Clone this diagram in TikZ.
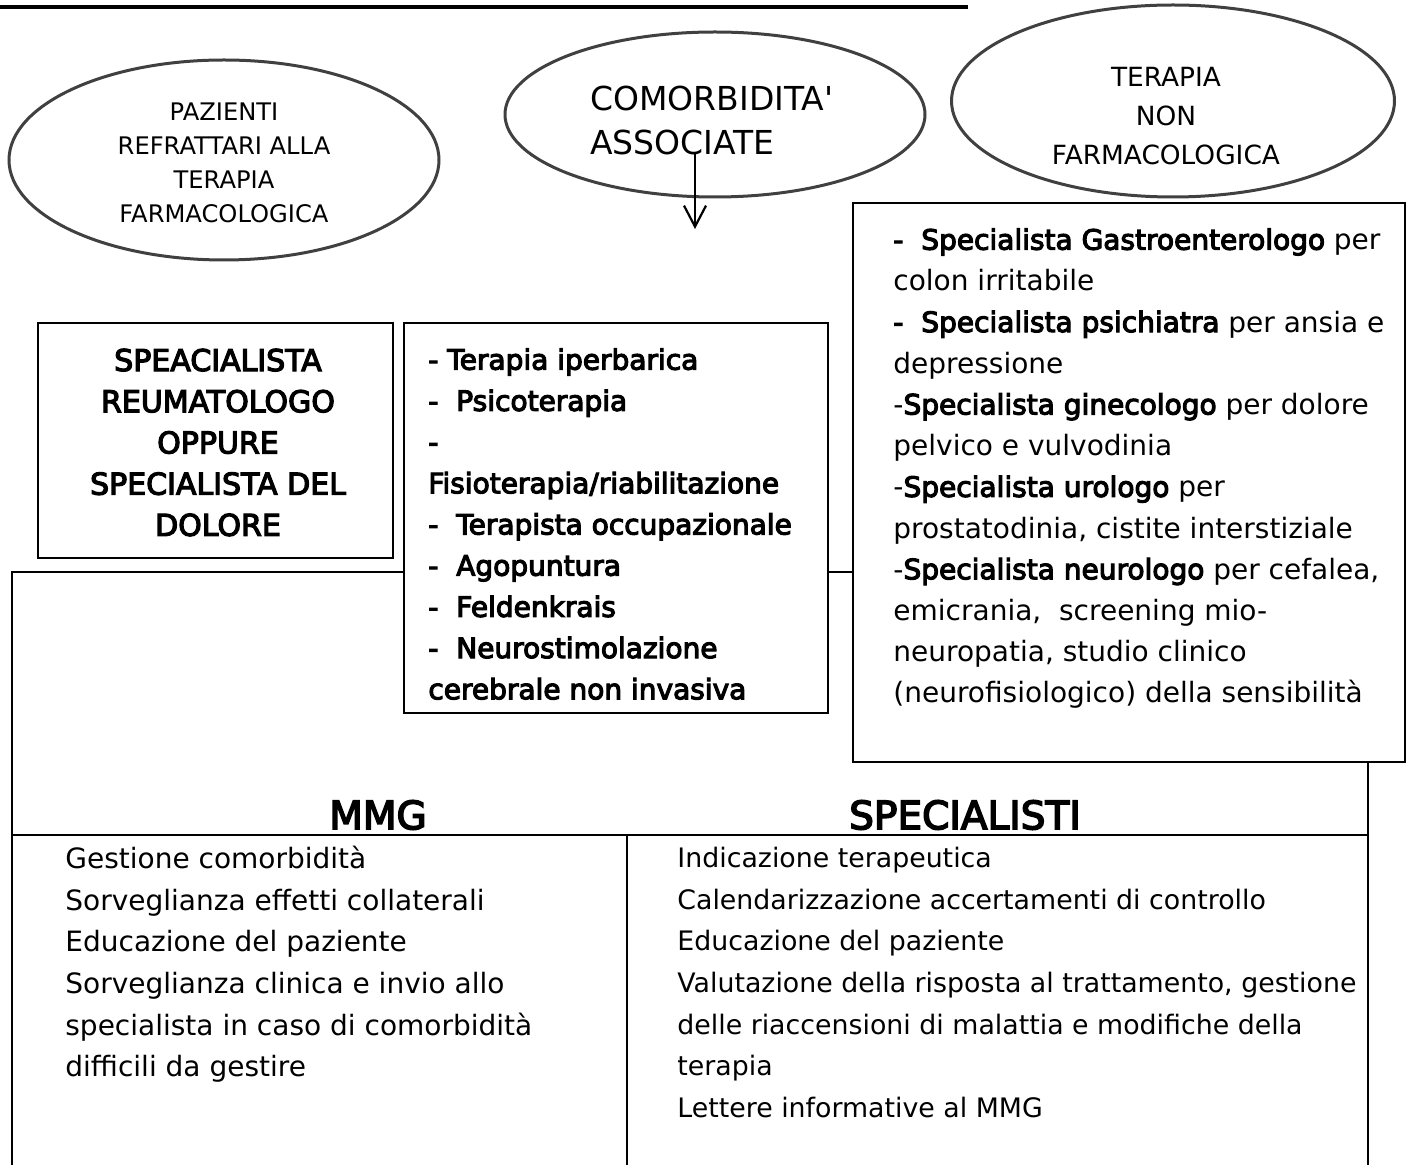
\documentclass[tikz,border=0pt]{standalone}
\usepackage{fontspec}
\setmainfont{DejaVu Sans}[BoldFont={DejaVu Sans},BoldFeatures={FakeBold=4}]
\usetikzlibrary{shapes.geometric,arrows.meta}

\begin{document}
\begin{tikzpicture}[x=0.5pt,y=-0.5pt,
  oval/.style={ellipse,draw=black!75,line width=1.5pt,inner sep=0pt},
  frame/.style={draw,line width=0.9pt,fill=white,inner sep=0pt},
  txt/.style={inner sep=0pt,align=left,anchor=north west,font=\fontsize{14}{20.6}\selectfont},
  hdr/.style={inner sep=0pt,font=\fontsize{19.5}{23}\selectfont\bfseries}]
\useasboundingbox (0,0) rectangle (1410,1165);

\coordinate (rulea) at (0,7);
\coordinate (ruleb) at (968,7);
\draw[line width=2.2pt] (rulea) -- (ruleb);	%top rule

% big table
\draw[line width=0.9pt] (12,1165) -- (12,572) -- (1368,572) -- (1368,1165);
\draw[line width=0.9pt] (12,835) -- (1368,835);
\draw[line width=0.9pt] (627,835) -- (627,1165);

% ovals
\node[oval,minimum width=215pt,minimum height=100pt] (pazov) at (224,160) {};
\node[oval,minimum width=210pt,minimum height=82.5pt] (comov) at (715,114.5) {};
\node[oval,minimum width=221.5pt,minimum height=96pt] (terov) at (1173,101) {};
\node[inner sep=0pt,align=center,font=\fontsize{12.1}{17}\selectfont] (paz) at (224,163)
  {PAZIENTI\\REFRATTARI ALLA\\TERAPIA\\FARMACOLOGICA};
\node[inner sep=0pt,align=left,anchor=west,font=\fontsize{16.5}{22}\selectfont] (com) at (590,120)
  {COMORBIDITA\textquotesingle\\ASSOCIATE};
\node[inner sep=0pt,align=center,font=\fontsize{13.2}{19.5}\selectfont] (ter) at (1166,116)
  {TERAPIA\\NON\\FARMACOLOGICA};

\coordinate (arrtop) at (695,152);
\coordinate (arrtip) at (695,229);
\draw[line width=1.1pt,-{Straight Barb[length=10.5pt,width=11pt]}] (arrtop) -- (arrtip);

% boxes
\node[frame,minimum width=177.5pt,minimum height=117.5pt] (reubox) at (215.5,440.5) {};
\node[frame,minimum width=212pt,minimum height=195pt] (terbox) at (616,518) {};
\node[frame,minimum width=276pt,minimum height=279.5pt] (spebox) at (1129,482.5) {};

\node[inner sep=0pt,align=center,font=\fontsize{15}{20.6}\selectfont\bfseries] (reu) at (218,442.5)
  {SPEACIALISTA\\REUMATOLOGO\\OPPURE\\SPECIALISTA DEL\\DOLORE};
\node[txt,font=\fontsize{14}{20.6}\selectfont\bfseries] (tera) at (428,348)
  {- Terapia iperbarica\\- \ Psicoterapia\\-\\Fisioterapia/riabilitazione\\- \ Terapista occupazionale\\
   - \ Agopuntura\\- \ Feldenkrais\\- \ Neurostimolazione\\cerebrale non invasiva};
\node[txt] (spec) at (893,228)
  {\textbf{- \ Specialista Gastroenterologo} per\\colon irritabile\\
   \textbf{- \ Specialista psichiatra} per ansia e\\depressione\\
   -\textbf{Specialista ginecologo} per dolore\\pelvico e vulvodinia\\
   -\textbf{Specialista urologo} per\\prostatodinia, cistite interstiziale\\
   -\textbf{Specialista neurologo} per cefalea,\\emicrania, \ screening mio-\\
   neuropatia, studio clinico\\(neurofisiologico) della sensibilità};

% table contents
\node[hdr] (mmg) at (378,815) {MMG};
\node[hdr] (spl) at (965,815) {SPECIALISTI};
\node[txt,font=\fontsize{14}{20.8}\selectfont] (mmgl) at (65,846)
  {Gestione comorbidità\\Sorveglianza effetti collaterali\\Educazione del paziente\\
   Sorveglianza clinica e invio allo\\specialista in caso di comorbidità\\difficili da gestire};
\node[txt,font=\fontsize{13.4}{20.8}\selectfont] (spll) at (677,847)
  {Indicazione terapeutica\\Calendarizzazione accertamenti di controllo\\Educazione del paziente\\
   Valutazione della risposta al trattamento, gestione\\delle riaccensioni di malattia e modifiche della\\
   terapia\\Lettere informative al MMG};
\end{tikzpicture}
\end{document}
